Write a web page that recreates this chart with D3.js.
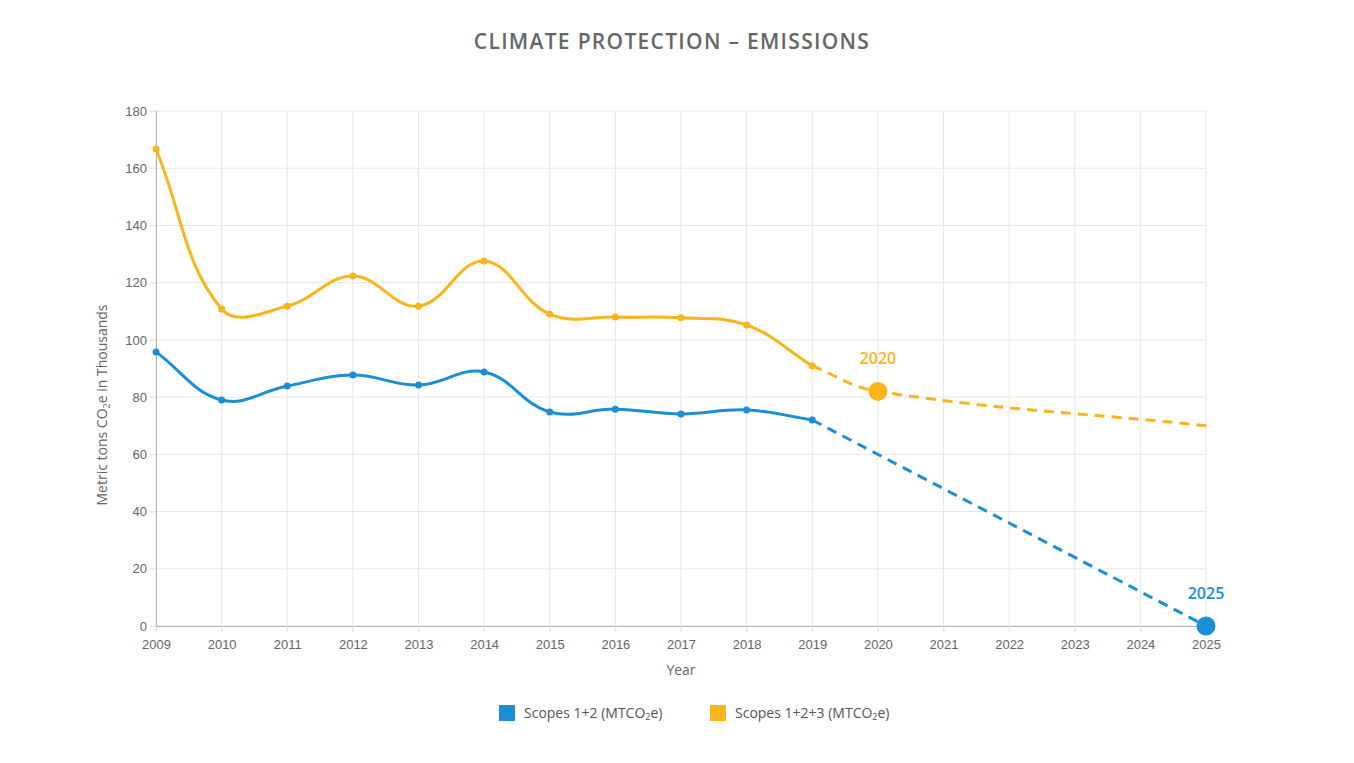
<!DOCTYPE html>
<html>
<head>
<meta charset="utf-8">
<script src="https://cdn.jsdelivr.net/npm/d3@7"></script>
<style>
  body { margin: 0; background: #fff; }
  svg { display: block; }
</style>
</head>
<body>
<div class="chart"></div>
<script>
// data
var years = d3.range(2009, 2026);
var actualYears = [2009, 2010, 2011, 2012, 2013, 2014, 2015, 2016, 2017, 2018, 2019];
var scopes12 = [95.8, 79, 83.9, 87.7, 84.2, 88.8, 74.8, 75.8, 74.1, 75.5, 72];
var scopes123 = [166.7, 110.8, 111.8, 122.3, 111.8, 127.6, 109, 108, 107.7, 105.2, 90.9];
var target12Years = [2019, 2025];
var target12 = [72, 0];
var target123Years = [2019, 2020, 2025];
var target123 = [90.9, 82, 70];
var yTicks = [0, 20, 40, 60, 80, 100, 120, 140, 160, 180];

var blue = "#1b8fd5";
var orange = "#fbb419";

var W = 1354, H = 763;
var svg = d3.select(".chart").append("svg")
    .attr("width", W)
    .attr("height", H);

var x = d3.scaleLinear().domain([2009, 2025]).range([156, 1206]);
var y = d3.scaleLinear().domain([0, 180]).range([626, 111]);

// spline like chart.js tension 0.4
function SplineCurve(context) { this._context = context; }
SplineCurve.prototype = {
    areaStart: function() {}, areaEnd: function() {},
    lineStart: function() { this._pts = []; },
    point: function(px, py) { this._pts.push([px, py]); },
    lineEnd: function() {
        var p = this._pts, ctx = this._context, t = 0.4, n = p.length;
        if (!n) return;
        var cps = p.map(function(cur, i) {
            var prev = p[i - 1] || cur, next = p[i + 1] || cur;
            var d01 = Math.hypot(cur[0] - prev[0], cur[1] - prev[1]);
            var d12 = Math.hypot(next[0] - cur[0], next[1] - cur[1]);
            var s01 = d01 / (d01 + d12 || 1), s12 = d12 / (d01 + d12 || 1);
            var fa = t * s01, fb = t * s12;
            return {
                prev: [cur[0] - fa * (next[0] - prev[0]), cur[1] - fa * (next[1] - prev[1])],
                next: [cur[0] + fb * (next[0] - prev[0]), cur[1] + fb * (next[1] - prev[1])]
            };
        });
        ctx.moveTo(p[0][0], p[0][1]);
        for (var i = 1; i < n; i++) {
            ctx.bezierCurveTo(cps[i - 1].next[0], cps[i - 1].next[1],
                cps[i].prev[0], cps[i].prev[1], p[i][0], p[i][1]);
        }
    }
};
var spline = function(context) { return new SplineCurve(context); };

// grid
var grid = svg.append("g");
grid.selectAll(".vg").data(years).enter().append("line")
    .attr("x1", d => x(d)).attr("x2", d => x(d))
    .attr("y1", y(180)).attr("y2", y(0) + 6)
    .attr("stroke", "#e6e6e6").attr("stroke-width", 1);
grid.selectAll(".hg").data(yTicks).enter().append("line")
    .attr("x1", x(2009) - 6).attr("x2", x(2025))
    .attr("y1", d => y(d)).attr("y2", d => y(d))
    .attr("stroke", "#e6e6e6").attr("stroke-width", 1);

// axes
var xAxis = svg.append("g")
    .attr("transform", "translate(0," + y(0) + ")")
    .call(d3.axisBottom(x).tickValues(years).tickFormat(d3.format("d")).tickSize(6));
var yAxis = svg.append("g")
    .attr("transform", "translate(" + x(2009) + ",0)")
    .call(d3.axisLeft(y).tickValues(yTicks).tickSize(6));
[xAxis, yAxis].forEach(function(a) {
    a.select(".domain").attr("stroke", "#b3b3b3");
    a.selectAll(".tick line").attr("stroke", "#e6e6e6");
    a.selectAll("text").attr("fill", "#666").style("font-family", "'Liberation Sans', Arial, sans-serif")
        .style("font-size", "13px");
});
xAxis.selectAll("text").attr("dy", "1.05em");
yAxis.selectAll("text").attr("x", -9);

svg.append("text")
    .attr("x", (x(2009) + x(2025)) / 2).attr("y", 675)
    .attr("text-anchor", "middle")
    .style("font-family", "'Open Sans', sans-serif").style("font-size", "14px")
    .attr("fill", "#666").text("Year");

svg.append("text")
    .attr("transform", "translate(107,405) rotate(-90)")
    .attr("text-anchor", "middle")
    .style("font-family", "'Open Sans', sans-serif").style("font-size", "14px")
    .attr("fill", "#666")
    .html("Metric tons CO<tspan font-size='9px' dy='3'>2</tspan><tspan dy='-3'>e in Thousands</tspan>");

// title
svg.append("text")
    .attr("x", 672).attr("y", 49)
    .attr("text-anchor", "middle")
    .style("font-family", "'Open Sans', sans-serif").style("font-size", "21px")
    .style("font-weight", "600").style("letter-spacing", "1.3px")
    .attr("fill", "#666").text("CLIMATE PROTECTION – EMISSIONS");

// lines
var line = d3.line().x(d => x(d[0])).y(d => y(d[1])).curve(spline);

function drawSeries(yrs, vals, color, dashed) {
    svg.append("path")
        .datum(d3.zip(yrs, vals))
        .attr("d", line)
        .attr("fill", "none")
        .attr("stroke", color)
        .attr("stroke-width", 3)
        .attr("stroke-dasharray", dashed ? "10,7" : null);
}
drawSeries(target123Years, target123, orange, true);
drawSeries(target12Years, target12, blue, true);
drawSeries(actualYears, scopes123, orange, false);
drawSeries(actualYears, scopes12, blue, false);

svg.append("g").selectAll("circle").data(d3.zip(actualYears, scopes123)).enter()
    .append("circle").attr("cx", d => x(d[0])).attr("cy", d => y(d[1]))
    .attr("r", 3.5).attr("fill", orange);
svg.append("g").selectAll("circle").data(d3.zip(actualYears, scopes12)).enter()
    .append("circle").attr("cx", d => x(d[0])).attr("cy", d => y(d[1]))
    .attr("r", 3.5).attr("fill", blue);

// highlighted targets
var highlights = [
    { year: 2020, value: target123[1], color: orange },
    { year: 2025, value: target12[1], color: blue }
];
highlights.forEach(function(h) {
    svg.append("circle")
        .attr("cx", x(h.year)).attr("cy", y(h.value))
        .attr("r", 9.5).attr("fill", h.color);
    svg.append("text")
        .attr("x", x(h.year)).attr("y", y(h.value) - 27)
        .attr("text-anchor", "middle")
        .style("font-family", "'Open Sans', sans-serif").style("font-size", "16px")
        .style("font-weight", "600")
        .attr("fill", h.color).text(h.year);
});

// legend
var legendItems = [
    { label: "Scopes 1+2 (MTCO", color: blue, x: 499 },
    { label: "Scopes 1+2+3 (MTCO", color: orange, x: 710 }
];
legendItems.forEach(function(l) {
    svg.append("rect")
        .attr("x", l.x).attr("y", 705).attr("width", 16).attr("height", 16)
        .attr("fill", l.color);
    svg.append("text")
        .attr("x", l.x + 25).attr("y", 718)
        .style("font-family", "'Open Sans', sans-serif").style("font-size", "14px")
        .attr("fill", "#555")
        .html(l.label + "<tspan font-size='9px' dy='2'>2</tspan><tspan dy='-2'>e)</tspan>");
});
</script>
</body>
</html>
